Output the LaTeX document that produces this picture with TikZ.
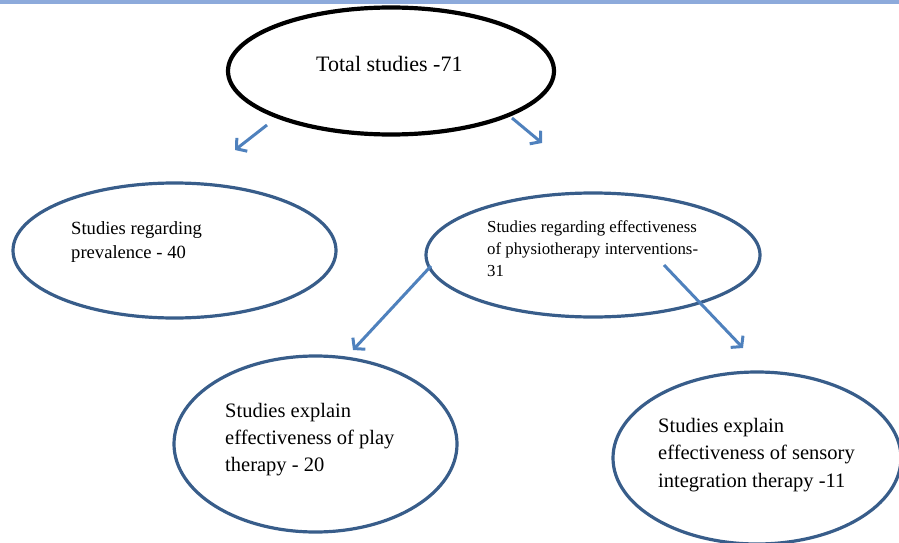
\documentclass[tikz,border=0pt]{standalone}
\usepackage{fontspec}
\setmainfont{Liberation Serif}
\usepackage{tikz}
\usetikzlibrary{arrows.meta,shapes,shapes.geometric}
\usetikzlibrary{positioning}
\definecolor{ovalblue}{RGB}{56,93,138}
\definecolor{arrowblue}{RGB}{79,129,189}
\definecolor{barblue}{RGB}{141,170,219}

\begin{document}
\begin{tikzpicture}[x=1pt, y=-1pt,
  oval/.style={ellipse, draw=ovalblue, line width=3.2pt, inner sep=0pt},
  txt/.style={anchor=west, align=left, inner sep=0pt},
  link/.style={draw=arrowblue, line width=3pt, -{Straight Barb[length=7pt,width=17pt]}}]

\useasboundingbox (0,0) rectangle (899,543);
\fill[barblue] (0,0) rectangle (899,4);

\node[ellipse, draw=black, line width=4.2pt, inner sep=0pt, minimum width=326pt, minimum height=127pt] (total) at (391,71) {};
\node[txt, font={\fontsize{22}{26}\selectfont}] (totaltxt) at (316,64) {Total studies -71};

\node[oval, minimum width=323pt, minimum height=135pt] (prev) at (174.5,250.5) {};
\node[txt, font={\fontsize{18.6}{24}\selectfont}] (prevtxt) at (71,242) {Studies regarding\\ prevalence - 40};

\node[oval, minimum width=334pt, minimum height=124pt] (physio) at (593,255) {};
\node[txt, font={\fontsize{16.8}{22}\selectfont}] (physiotxt) at (487,249) {Studies regarding effectiveness\\ of physiotherapy interventions-\\ 31};

\node[oval, minimum width=283pt, minimum height=176pt] (play) at (315.5,444) {};
\node[txt, font={\fontsize{20.5}{27}\selectfont}] (playtxt) at (225,440) {Studies explain\\ effectiveness of play\\ therapy - 20};

\node[oval, minimum width=288pt, minimum height=172pt] (sensory) at (757,458) {};
\node[txt, font={\fontsize{20.5}{27.5}\selectfont}] (sensorytxt) at (658,455) {Studies explain\\ effectiveness of sensory\\ integration therapy -11};

\coordinate (a1) at (267,125);
\coordinate (b1) at (235,150);
\coordinate (a2) at (512,118);
\coordinate (b2) at (542,143);
\coordinate (a3) at (431,266);
\coordinate (b3) at (353,350);
\coordinate (a4) at (664,265);
\coordinate (b4) at (743,348);
\path[link] (a1) -- (b1);
\path[link] (a2) -- (b2);
\path[link] (a3) -- (b3);
\path[link] (a4) -- (b4);

\end{tikzpicture}
\end{document}
